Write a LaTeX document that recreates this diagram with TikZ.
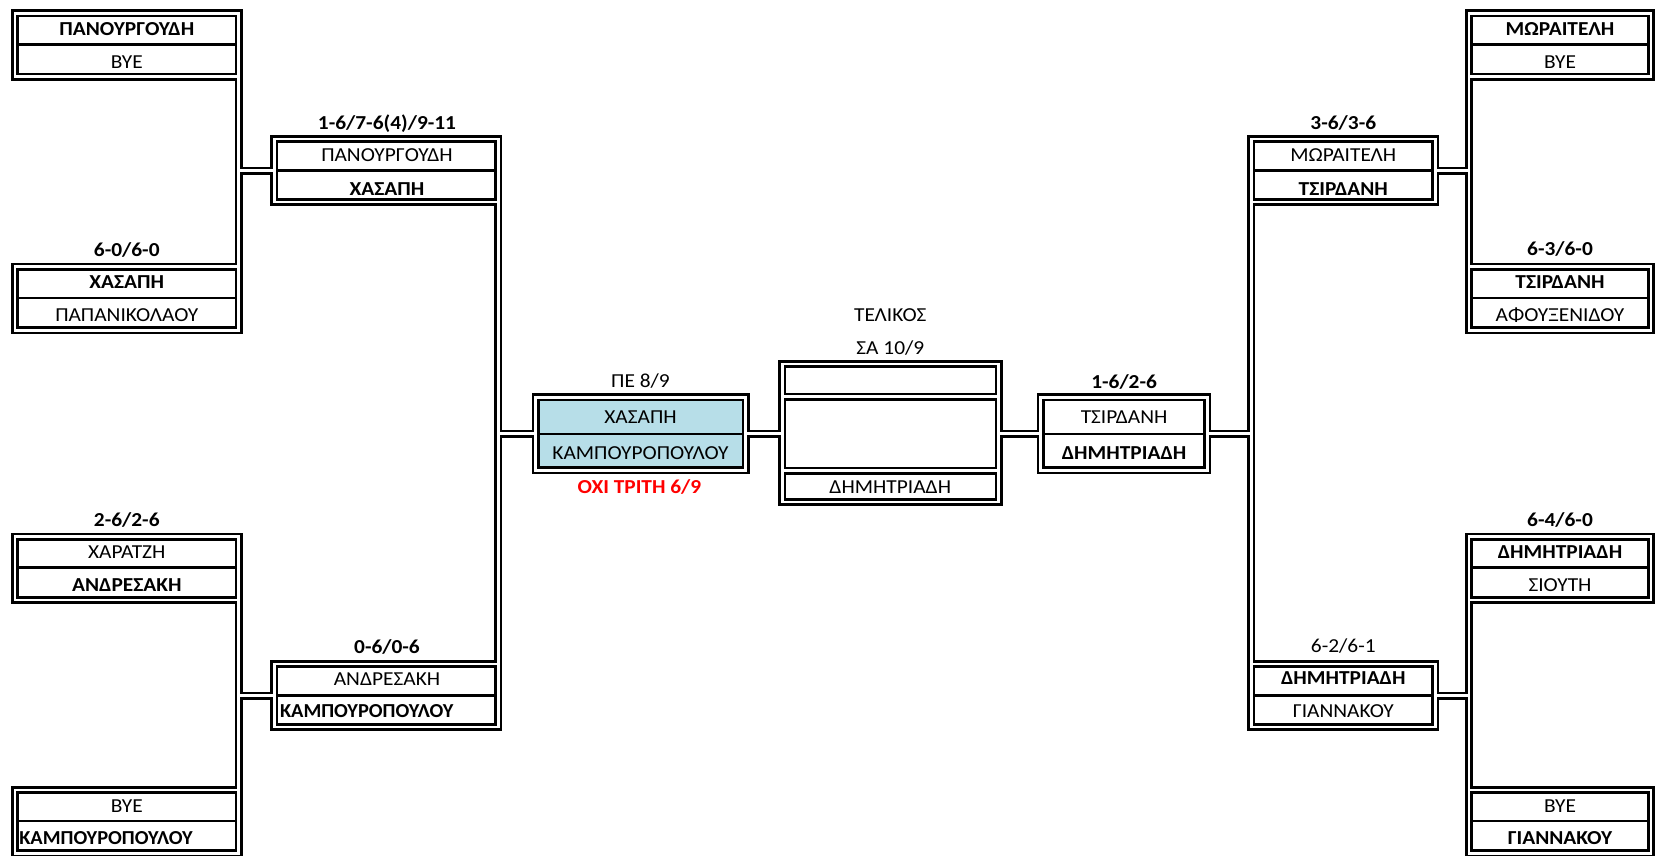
\documentclass[tikz,border=0pt]{standalone}
\usepackage{fontspec}
\setmainfont{Carlito}[FakeStretch=1.08]
\newfontfamily\plainfont{Carlito}[FakeStretch=1.03]
\definecolor{cellblue}{HTML}{B7DEE8}
\definecolor{scorered}{HTML}{FF0000}
\newcommand\fsz{\fontsize{19.8}{23}\selectfont}
\tikzset{
  boxnode/.style 2 args={rectangle, inner sep=0pt, outer sep=0pt, draw=none,
    minimum width=#1, minimum height=#2, fill=white},
  blk/.style={line width=8pt, black, line cap=butt, line join=miter},
  wht/.style={line width=2.67pt, white, line cap=butt, line join=miter},
  divl/.style={line width=2.5pt, black, line cap=butt},
  nm/.style={font=\fsz, inner sep=0pt, outer sep=0pt, anchor=base},
  nmb/.style={nm, font=\fsz\bfseries},
  nml/.style={nm, font=\plainfont\fsz\bfseries, anchor=base west},
  redlab/.style={nmb, text=scorered},
}
\newcommand\framepaths[1]{%
  % boxes
  \foreach \b in {la,lb,lc,ld,lu,ll,sl,fin,sr,ru,rl,ra,rb,rc,rd}{
    \draw[#1] (\b.north west) rectangle (\b.south east);
  }
  % final box double dividers
  \draw[#1] ([yshift=36.3pt]fin.west) -- ([yshift=36.3pt]fin.east);
  \draw[#1] ([yshift=-37.5pt]fin.west) -- ([yshift=-37.5pt]fin.east);
  % left side connectors
  \draw[#1] (la.south east) -- (lb.north east);
  \draw[#1] (la.south east |- lu.west) -- (lu.west);
  \draw[#1] (lc.south east) -- (ld.north east);
  \draw[#1] (lc.south east |- ll.west) -- (ll.west);
  \draw[#1] (lu.south east) -- (ll.north east);
  \draw[#1] (lu.south east |- sl.west) -- (sl.west);
  \draw[#1] (sl.east) -- (sl.east -| fin.west);
  % right side connectors
  \draw[#1] (fin.east |- sr.west) -- (sr.west);
  \draw[#1] (sr.east) -- (sr.east -| ru.south west);
  \draw[#1] (ru.south west) -- (rl.north west);
  \draw[#1] (ru.east) -- (ru.east -| ra.south west);
  \draw[#1] (ra.south west) -- (rb.north west);
  \draw[#1] (rl.east) -- (rl.east -| rc.south west);
  \draw[#1] (rc.south west) -- (rd.north west);
}
\begin{document}
\begin{tikzpicture}[x=1pt,y=-1pt]
\fill[white] (0,0) rectangle (1655,855);
\useasboundingbox (0,0) rectangle (1655,855);
\clip (0,0) rectangle (1655,855);

% ---- box shapes (border centre lines) ----
% left first round
\node[boxnode={223.9pt}{63.4pt}] (la) at (126.8,45) {};
\node[boxnode={223.9pt}{63.4pt}] (lb) at (126.8,298.5) {};
\node[boxnode={223.9pt}{63.4pt}] (lc) at (126.8,568.4) {};
\node[boxnode={223.9pt}{63.4pt}] (ld) at (126.8,821.7) {};
% left second round
\node[boxnode={224pt}{63pt}] (lu) at (386.3,170.5) {};
\node[boxnode={224pt}{63pt}] (ll) at (386.3,695.5) {};
% semifinals
\node[boxnode={210pt}{73pt}, fill=cellblue] (sl) at (640.5,433.8) {};
\node[boxnode={166.6pt}{73pt}] (sr) at (1124.1,433.8) {};
% final
\node[boxnode={216.3pt}{138pt}] (fin) at (890.35,433) {};
% right second round
\node[boxnode={183.8pt}{63pt}] (ru) at (1343.3,170.5) {};
\node[boxnode={183.8pt}{63pt}] (rl) at (1343.3,695.5) {};
% right first round
\node[boxnode={182pt}{63.4pt}] (ra) at (1560,45) {};
\node[boxnode={182pt}{63.4pt}] (rb) at (1560,298.5) {};
\node[boxnode={182pt}{63.4pt}] (rc) at (1560,568.4) {};
\node[boxnode={182pt}{63.4pt}] (rd) at (1560,821.7) {};

% ---- cell dividers ----
\foreach \b in {la,lb,lc,ld,ra,rb,rc,rd}{
  \draw[divl] ([yshift=0.7pt]\b.west) -- ([yshift=0.7pt]\b.east);
}
\foreach \b in {lu,ll,sl,sr,ru,rl}{
  \draw[divl] (\b.west) -- (\b.east);
}

% ---- double borders and connectors ----
\framepaths{blk}
\framepaths{wht}

% ---- texts ----
% left first round
\node[nmb] (ta1) at (126.8,35.4) {ΠΑΝΟΥΡΓΟΥΔΗ};
\node[nm]  (ta2) at (126.8,68.1) {BYE};
\node[nmb] (sb)  at (126.8,256.4) {6-0/6-0};
\node[nmb] (tb1) at (126.8,288.9) {ΧΑΣΑΠΗ};
\node[nm]  (tb2) at (126.8,321.6) {ΠΑΠΑΝΙΚΟΛΑΟΥ};
\node[nmb] (sc)  at (126.8,526.4) {2-6/2-6};
\node[nm]  (tc1) at (126.8,558.6) {ΧΑΡΑΤΖΗ};
\node[nmb] (tc2) at (126.8,591.4) {ΑΝΔΡΕΣΑΚΗ};
\node[nm]  (td1) at (126.8,812.4) {BYE};
\node[nml] (td2) at (19.3,844.6) {ΚΑΜΠΟΥΡΟΠΟΥΛΟΥ};
% left second round
\node[nmb] (su)  at (387,129.1) {1-6/7-6(4)/9-11};
\node[nm]  (tu1) at (387,161.4) {ΠΑΝΟΥΡΓΟΥΔΗ};
\node[nmb] (tu2) at (387,195.7) {ΧΑΣΑΠΗ};
\node[nmb] (sll) at (387,653.1) {0-6/0-6};
\node[nm]  (tl1) at (387,685.4) {ΑΝΔΡΕΣΑΚΗ};
\node[nml] (tl2) at (280,717.4) {ΚΑΜΠΟΥΡΟΠΟΥΛΟΥ};
% left semifinal
\node[nm]  (ssl) at (640.5,387.1) {ΠΕ 8/9};
\node[nm]  (tsl1) at (640.5,423.1) {ΧΑΣΑΠΗ};
\node[nm]  (tsl2) at (640.5,459.1) {ΚΑΜΠΟΥΡΟΠΟΥΛΟΥ};
\node[redlab] (rsl) at (639.5,493.1) {\symbol{"038C}ΧΙ ΤΡΙΤΗ 6/9};
% final
\node[nm]  (fh1) at (890.3,321.4) {ΤΕΛΙΚΟΣ};
\node[nm]  (fh2) at (890.3,354.7) {ΣΑ 10/9};
\node[nm]  (ft)  at (890.3,493.1) {ΔΗΜΗΤΡΙΑΔΗ};
% right semifinal
\node[nmb] (ssr) at (1124.1,388.1) {1-6/2-6};
\node[nm]  (tsr1) at (1124.1,423.1) {ΤΣΙΡΔΑΝΗ};
\node[nmb] (tsr2) at (1124.1,459.1) {ΔΗΜΗΤΡΙΑΔΗ};
% right second round
\node[nmb] (sru) at (1343.3,129.7) {3-6/3-6};
\node[nm]  (tru1) at (1343.3,161.4) {ΜΩΡΑΙΤΕΛΗ};
\node[nmb] (tru2) at (1343.3,195.4) {ΤΣΙΡΔΑΝΗ};
\node[nm]  (srl) at (1343.3,652.4) {6-2/6-1};
\node[nmb] (trl1) at (1343.3,684.7) {ΔΗΜΗΤΡΙΑΔΗ};
\node[nm]  (trl2) at (1343.3,717.4) {ΓΙΑΝΝΑΚΟΥ};
% right first round
\node[nmb] (tra1) at (1560,35.4) {ΜΩΡΑΙΤΕΛΗ};
\node[nm]  (tra2) at (1560,68.1) {BYE};
\node[nmb] (srb)  at (1560,255.7) {6-3/6-0};
\node[nmb] (trb1) at (1560,288.9) {ΤΣΙΡΔΑΝΗ};
\node[nm]  (trb2) at (1560,321.6) {ΑΦΟΥΞΕΝΙΔΟΥ};
\node[nmb] (src)  at (1560,526.4) {6-4/6-0};
\node[nmb] (trc1) at (1560,558.6) {ΔΗΜΗΤΡΙΑΔΗ};
\node[nm]  (trc2) at (1560,591.4) {ΣΙΟΥΤΗ};
\node[nm]  (trd1) at (1560,812.4) {BYE};
\node[nmb] (trd2) at (1560,844.6) {ΓΙΑΝΝΑΚΟΥ};
\end{tikzpicture}
\end{document}
